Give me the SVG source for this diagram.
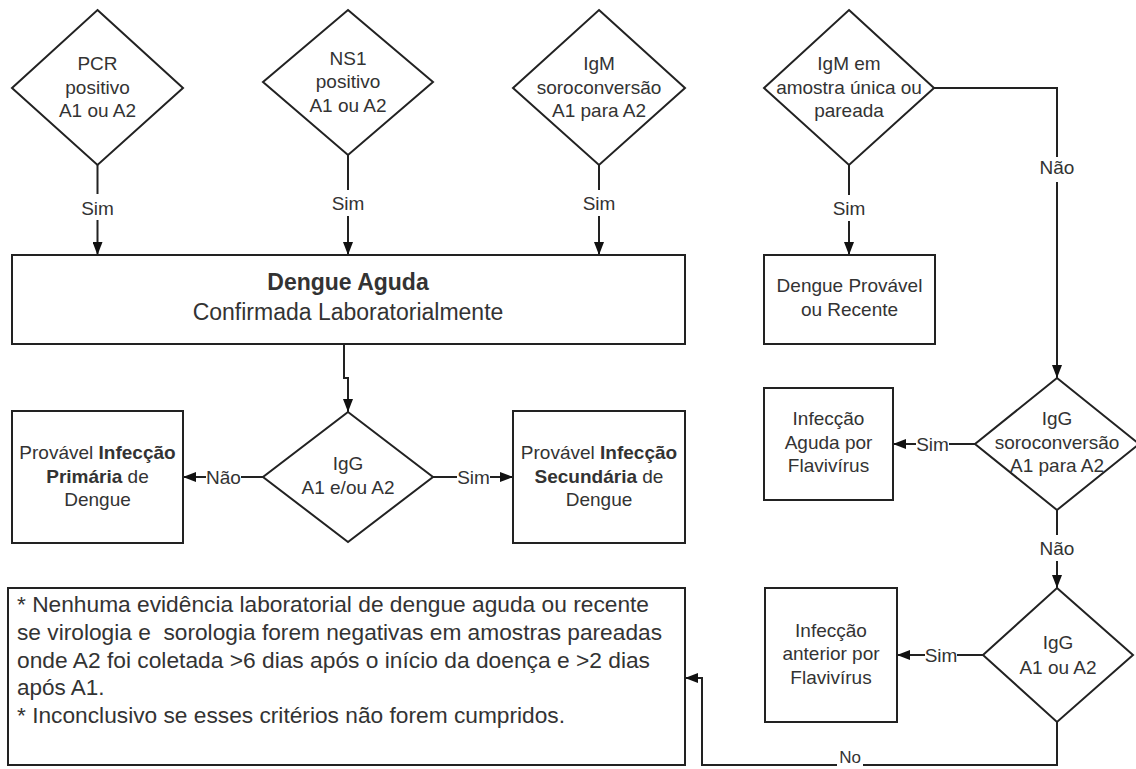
<svg xmlns="http://www.w3.org/2000/svg" width="1136" height="769" viewBox="0 0 1136 769">
<style>
.shape{fill:#fff;stroke:#222;stroke-width:2}
.conn{fill:none;stroke:#222;stroke-width:2;marker-end:url(#arr)}
text{font-family:"Liberation Sans",Arial,sans-serif;font-size:19px;fill:#333;text-anchor:middle}
.big{font-size:23px}
.b{font-weight:bold}
.note{font-size:22.5px;text-anchor:start}
</style>
<defs>
<marker id="arr" markerUnits="userSpaceOnUse" markerWidth="13" markerHeight="10" refX="13" refY="5" orient="auto">
<path d="M0,0 L13,5 L0,10 z" fill="#111"/>
</marker>
</defs>
<rect width="1136" height="769" fill="#fff"/>

<g id="connectors">
<path class="conn" d="M97.5 165 V194 M97.5 220 V255"/>
<text x="97.5" y="215">Sim</text>
<path class="conn" d="M348 155 V190 M348 216 V255"/>
<text x="348" y="210">Sim</text>
<path class="conn" d="M599 165 V190 M599 216 V255"/>
<text x="599" y="210">Sim</text>
<path class="conn" d="M344 344 V378 H348 V412"/>
<path class="conn" d="M263 477 H241 M206 477 H183"/>
<text x="223.5" y="484">Não</text>
<path class="conn" d="M433 477 H457 M490 477 H513"/>
<text x="473.5" y="484">Sim</text>
<path class="conn" d="M849 165 V195 M849 221 V255"/>
<text x="849" y="215">Sim</text>
<path class="conn" d="M934 88 H1057 V157 M1057 182 V378"/>
<text x="1057" y="174">Não</text>
<path class="conn" d="M975 444 H949 M916 444 H893"/>
<text x="932.5" y="451">Sim</text>
<path class="conn" d="M1057 510 V535 M1057 561 V588"/>
<text x="1057" y="555">Não</text>
<path class="conn" d="M983 655 H957 M925 655 H897"/>
<text x="941" y="662">Sim</text>
<path class="conn" d="M1057 722 V765 H863 M837 765 H702 V678 H685"/>
<text x="850" y="763" style="font-size:17px">No</text>
</g>

<g id="pcr">
<polygon class="shape" points="97.5,10 183,88 97.5,165 12,88"/>
<text x="97.5" y="70">PCR</text>
<text x="97.5" y="94">positivo</text>
<text x="97.5" y="117">A1 ou A2</text>
</g>
<g id="ns1">
<polygon class="shape" points="348,10 433,82 348,155 263,82"/>
<text x="348" y="65">NS1</text>
<text x="348" y="88">positivo</text>
<text x="348" y="112">A1 ou A2</text>
</g>
<g id="igm-soro">
<polygon class="shape" points="599,10 685,88 599,165 513,88"/>
<text x="599" y="70">IgM</text>
<text x="599" y="94">soroconversão</text>
<text x="599" y="117">A1 para A2</text>
</g>
<g id="igm-amostra">
<polygon class="shape" points="849,10 934,88 849,165 764,88"/>
<text x="849" y="70">IgM em</text>
<text x="849" y="94">amostra única ou</text>
<text x="849" y="117">pareada</text>
</g>
<g id="dengue-aguda">
<rect class="shape" x="12" y="255" width="673" height="89"/>
<text class="big b" x="348" y="290">Dengue Aguda</text>
<text class="big" x="348" y="320">Confirmada Laboratorialmente</text>
</g>
<g id="dengue-provavel">
<rect class="shape" x="764" y="255" width="171" height="89"/>
<text x="849.5" y="292">Dengue Provável</text>
<text x="849.5" y="316">ou Recente</text>
</g>
<g id="igg-mid">
<polygon class="shape" points="348,412 433,477 348,542 263,477"/>
<text x="348" y="470">IgG</text>
<text x="348" y="494">A1 e/ou A2</text>
</g>
<g id="primaria">
<rect class="shape" x="12" y="411" width="171" height="132"/>
<text x="97.5" y="459">Provável <tspan class="b">Infecção</tspan></text>
<text x="97.5" y="483"><tspan class="b">Primária</tspan> de</text>
<text x="97.5" y="506">Dengue</text>
</g>
<g id="secundaria">
<rect class="shape" x="513" y="411" width="172" height="132"/>
<text x="599" y="459">Provável <tspan class="b">Infecção</tspan></text>
<text x="599" y="483"><tspan class="b">Secundária</tspan> de</text>
<text x="599" y="506">Dengue</text>
</g>
<g id="igg-soro">
<polygon class="shape" points="1057,378 1139,444 1057,510 975,444"/>
<text x="1057" y="425">IgG</text>
<text x="1057" y="449">soroconversão</text>
<text x="1057" y="472">A1 para A2</text>
</g>
<g id="aguda-flavi">
<rect class="shape" x="764" y="388" width="129" height="112"/>
<text x="828.5" y="425">Infecção</text>
<text x="828.5" y="449">Aguda por</text>
<text x="828.5" y="472">Flavivírus</text>
</g>
<g id="igg-a1a2">
<polygon class="shape" points="1057,588 1133,655 1057,722 983,655"/>
<text x="1058" y="649">IgG</text>
<text x="1058" y="674">A1 ou A2</text>
</g>
<g id="anterior-flavi">
<rect class="shape" x="765" y="588" width="132" height="134"/>
<text x="831" y="637">Infecção</text>
<text x="831" y="660">anterior por</text>
<text x="831" y="684">Flavivírus</text>
</g>
<g id="nota">
<rect class="shape" x="8" y="588" width="677" height="177"/>
<text class="note" x="17" y="612" textLength="632" lengthAdjust="spacingAndGlyphs">* Nenhuma evidência laboratorial de dengue aguda ou recente</text>
<text class="note" x="17" y="640" textLength="645" lengthAdjust="spacingAndGlyphs" xml:space="preserve">se virologia e  sorologia forem negativas em amostras pareadas</text>
<text class="note" x="17" y="668" textLength="633" lengthAdjust="spacingAndGlyphs">onde A2 foi coletada &gt;6 dias após o início da doença e &gt;2 dias</text>
<text class="note" x="17" y="695">após A1.</text>
<text class="note" x="17" y="723" textLength="548" lengthAdjust="spacingAndGlyphs">* Inconclusivo se esses critérios não forem cumpridos.</text>
</g>
</svg>
